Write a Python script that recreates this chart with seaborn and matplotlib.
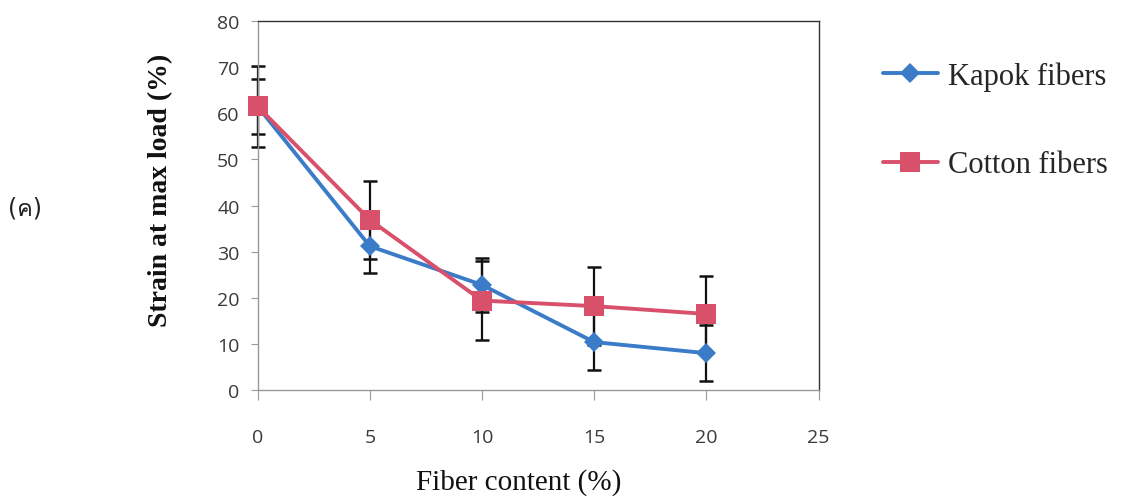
import numpy as np
import pandas as pd
import matplotlib
matplotlib.use("Agg")
import matplotlib.pyplot as plt
import seaborn as sns
from matplotlib import font_manager
from matplotlib.ft2font import FT2Font
from matplotlib.lines import Line2D

# === Data ===
fiber_content = [0, 5, 10, 15, 20]
kapok_strain = [61.5, 31.2, 22.8, 10.4, 8.0]
kapok_err = [6.0, 5.8, 5.9, 6.1, 6.1]
cotton_strain = [61.5, 36.9, 19.4, 18.2, 16.5]
cotton_err = [8.7, 8.4, 8.5, 8.5, 8.2]
series_names = ["Kapok fibers", "Cotton fibers"]
x_ticks = [0, 5, 10, 15, 20, 25]
y_ticks = [0, 10, 20, 30, 40, 50, 60, 70, 80]
panel_label = "(ค)"

BLUE = "#3b7cc8"
RED = "#d9506b"

df = pd.DataFrame({
    "fiber": fiber_content * 2,
    "strain": kapok_strain + cotton_strain,
    "err": kapok_err + cotton_err,
    "series": [series_names[0]] * 5 + [series_names[1]] * 5,
})

# find an installed family that has the Thai letter
thai_family = None
for f in font_manager.fontManager.ttflist:
    try:
        if 0x0E04 in FT2Font(f.fname).get_charmap():
            thai_family = f.name
            break
    except Exception:
        pass
label_families = ["DejaVu Sans"] + ([thai_family] if thai_family else [])

sns.set_style("white")
plt.rcParams['font.family'] = label_families

fig = plt.figure(figsize=(11.4, 5.02), dpi=100)
ax = fig.add_axes([0.226, 0.221, 0.492, 0.735])

# error bars first, markers go over them
for name in series_names:
    d = df[df["series"] == name]
    eb = ax.errorbar(d["fiber"], d["strain"], yerr=d["err"], fmt="none",
                     ecolor="#111111", elinewidth=1.6, capsize=5, capthick=1.8, zorder=2)
    for art in eb.lines[1] + eb.lines[2]:
        art.set_clip_on(False)

sns.lineplot(data=df, x="fiber", y="strain", hue="series", style="series",
             palette={series_names[0]: BLUE, series_names[1]: RED},
             markers={series_names[0]: "D", series_names[1]: "s"},
             dashes=False, linewidth=2.8, ax=ax, legend=False, zorder=3)
ax.lines[-2].set_markersize(10)
ax.lines[-1].set_markersize(15)
for ln in ax.lines[-2:]:
    ln.set_markeredgewidth(0)
    ln.set_clip_on(False)

ax.set_xlim(0, 25)
ax.set_ylim(0, 80)
ax.set_xticks(x_ticks)
ax.set_yticks(y_ticks)
ax.tick_params(axis="x", direction="out", length=7, width=0.8, color="#999999",
               pad=20, labelsize=14, labelcolor="#3a3a3a", bottom=True)
ax.tick_params(axis="y", direction="out", length=5, width=0.8, color="#999999",
               pad=8, labelsize=14, labelcolor="#3a3a3a", left=True)
for lbl in ax.get_xticklabels() + ax.get_yticklabels():
    lbl.set_family("Open Sans")

for side in ["top", "right"]:
    ax.spines[side].set_color("#333333")
    ax.spines[side].set_linewidth(1.0)
for side in ["left", "bottom"]:
    ax.spines[side].set_color("#999999")
    ax.spines[side].set_linewidth(1.0)

ax.set_xlabel("Fiber content (%)", family="Liberation Serif", fontsize=21, color="#111111")
ax.set_ylabel("Strain at max load (%)", family="Liberation Serif", fontsize=20,
              fontweight="bold", color="#111111")
ax.xaxis.set_label_coords(0.465, -0.212)
ax.yaxis.set_label_coords(-0.15, 0.545)

# legend outside on the right
handles = [
    Line2D([], [], color=BLUE, marker="D", markersize=10, linewidth=2.8, markeredgewidth=0),
    Line2D([], [], color=RED, marker="s", markersize=14, linewidth=2.8, markeredgewidth=0),
]
fig.legend(handles, series_names, loc="upper left", bbox_to_anchor=(0.750, 0.931),
           frameon=False, labelspacing=1.95, handlelength=1.8, handletextpad=0.36,
           prop={"family": "Liberation Serif", "size": 22})

fig.text(0.022, 0.584, panel_label, fontsize=17, ha="center", va="center", color="#222222",
         family=label_families)

fig.savefig("out.png", dpi=100)
